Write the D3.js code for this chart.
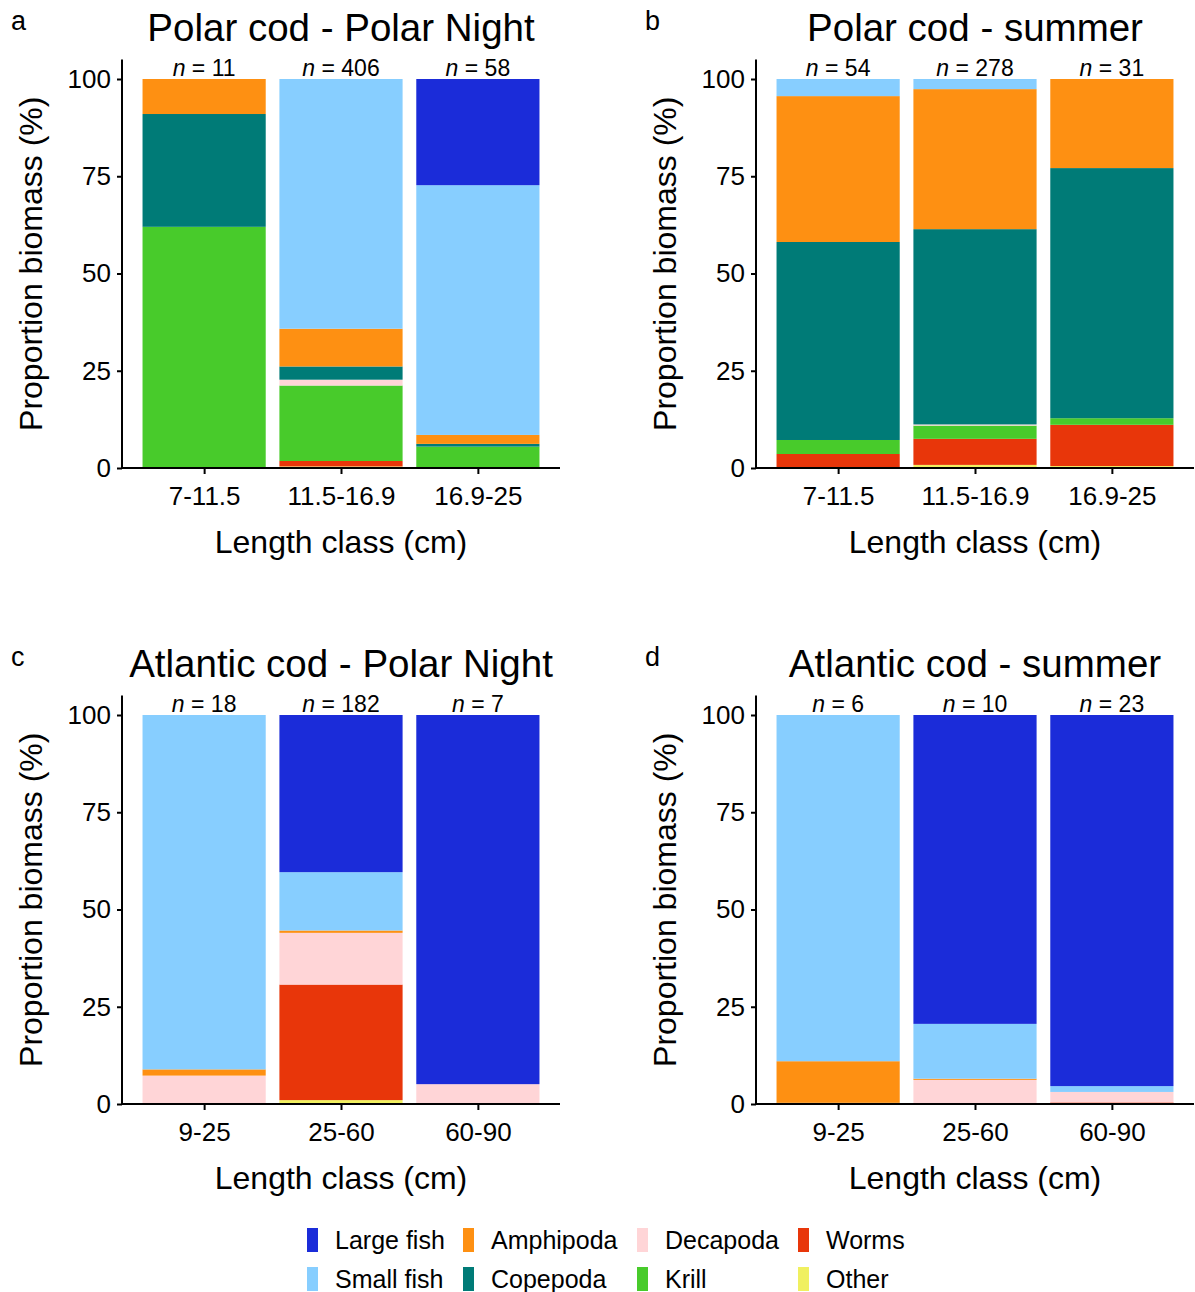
<!DOCTYPE html>
<html><head><meta charset="utf-8">
<script src="https://cdn.jsdelivr.net/npm/d3@7"></script>
<style>
html,body{margin:0;padding:0;background:#fff;}
text{font-family:"Liberation Sans",Arial,sans-serif;fill:#000;}
</style></head>
<body><svg id="chart" width="1195" height="1292"></svg>
<script>
// ---------- data ----------
const stackKeys = ["Other","Worms","Krill","Decapoda","Copepoda","Amphipoda","Small fish","Large fish"];
const legendKeys = ["Large fish","Small fish","Amphipoda","Copepoda","Decapoda","Krill","Worms","Other"];
const preyColors = ["#1B2CD9","#87CEFF","#FE9012","#007B77","#FFD5D7","#48CB2B","#E8360A","#F0F060"];

const polarClasses = ["7-11.5","11.5-16.9","16.9-25"];
const atlanticClasses = ["9-25","25-60","60-90"];

const panelLetters = ["a","b","c","d"];
const panelTitles = ["Polar cod - Polar Night","Polar cod - summer","Atlantic cod - Polar Night","Atlantic cod - summer"];

const nPolarNight = [11, 406, 58];
const nPolarSummer = [54, 278, 31];
const nAtlanticNight = [18, 182, 7];
const nAtlanticSummer = [6, 10, 23];

const polarNight = {
  "Other":      [0, 0.4, 0],
  "Worms":      [0, 1.4, 0],
  "Krill":      [62, 19.4, 5.5],
  "Decapoda":   [0, 1.5, 0],
  "Copepoda":   [29, 3.4, 0.7],
  "Amphipoda":  [9, 9.7, 2.3],
  "Small fish": [0, 64.2, 64.2],
  "Large fish": [0, 0, 27.3]
};
const polarSummer = {
  "Other":      [0, 0.8, 0.5],
  "Worms":      [3.6, 6.7, 10.6],
  "Krill":      [3.6, 3.4, 1.7],
  "Decapoda":   [0, 0.3, 0],
  "Copepoda":   [50.9, 50.2, 64.3],
  "Amphipoda":  [37.5, 36.0, 22.9],
  "Small fish": [4.4, 2.6, 0],
  "Large fish": [0, 0, 0]
};
const atlanticNight = {
  "Other":      [0, 1.0, 0],
  "Worms":      [0, 29.7, 0],
  "Krill":      [0, 0, 0],
  "Decapoda":   [7.3, 13.3, 5.1],
  "Copepoda":   [0, 0, 0],
  "Amphipoda":  [1.6, 0.6, 0],
  "Small fish": [91.1, 15.0, 0],
  "Large fish": [0, 40.4, 94.9]
};
const atlanticSummer = {
  "Other":      [0, 0, 0],
  "Worms":      [0, 0, 0.4],
  "Krill":      [0, 0, 0],
  "Decapoda":   [0, 6.2, 2.7],
  "Copepoda":   [0.3, 0, 0],
  "Amphipoda":  [10.7, 0.3, 0],
  "Small fish": [89.0, 14.1, 1.5],
  "Large fish": [0, 79.4, 95.4]
};

const yTicks = [0, 25, 50, 75, 100];

// ---------- drawing ----------
const svg = d3.select("#chart");
const color = d3.scaleOrdinal().domain(legendKeys).range(preyColors);

const panels = [
  {values: polarNight, classes: polarClasses, n: nPolarNight, ox: 0, oy: 0},
  {values: polarSummer, classes: polarClasses, n: nPolarSummer, ox: 634, oy: 0},
  {values: atlanticNight, classes: atlanticClasses, n: nAtlanticNight, ox: 0, oy: 636},
  {values: atlanticSummer, classes: atlanticClasses, n: nAtlanticSummer, ox: 634, oy: 636}
];

panels.forEach((p, i) => {
  const g = svg.append("g").attr("transform", `translate(${p.ox},${p.oy})`);
  const x0 = 122, x1 = 560, yBottom = 468;
  const x = d3.scalePoint().domain(p.classes).range([x0, x1]).padding(0.6);
  const bw = x.step() * 0.9;
  const y = d3.scaleLinear().domain([0, 105]).range([yBottom, yBottom - 105 * 3.89]);

  const rows = p.classes.map((c, j) => {
    const r = {cls: c};
    stackKeys.forEach(k => r[k] = p.values[k][j]);
    return r;
  });
  const series = d3.stack().keys(stackKeys)(rows);

  g.append("g").selectAll("g").data(series).join("g")
    .attr("fill", d => color(d.key))
    .selectAll("rect").data(d => d.filter(s => s[1] - s[0] > 0)).join("rect")
    .attr("x", d => x(d.data.cls) - bw / 2)
    .attr("width", bw)
    .attr("y", d => y(d[1]))
    .attr("height", d => y(d[0]) - y(d[1]));

  // y axis
  const yAxis = g.append("g").attr("transform", `translate(${x0},0)`)
    .call(d3.axisLeft(y).tickValues(yTicks).tickSize(5).tickPadding(6));
  yAxis.select(".domain").attr("d", `M0,${y(105)}V${yBottom + 1}`).attr("stroke", "#000").attr("stroke-width", 2);
  yAxis.selectAll(".tick line").attr("stroke", "#000").attr("stroke-width", 2);
  yAxis.selectAll(".tick text").attr("font-size", 26).attr("fill", "#000")
    .style("font-family", '"Liberation Sans", Arial, sans-serif');

  // x axis
  const xAxis = g.append("g").attr("transform", `translate(0,${yBottom})`)
    .call(d3.axisBottom(x).tickSize(6).tickPadding(13));
  xAxis.select(".domain").attr("d", `M${x0 - 1},0H${x1}`).attr("stroke", "#000").attr("stroke-width", 2);
  xAxis.selectAll(".tick line").attr("stroke", "#000").attr("stroke-width", 2);
  xAxis.selectAll(".tick text").attr("font-size", 26).attr("fill", "#000").attr("dy", "0.71em")
    .style("font-family", '"Liberation Sans", Arial, sans-serif');

  // axis titles
  g.append("text").attr("x", (x0 + x1) / 2).attr("y", 553).attr("text-anchor", "middle")
    .attr("font-size", 32).text("Length class (cm)");
  g.append("text").attr("transform", `translate(42,${(y(105) + yBottom) / 2}) rotate(-90)`)
    .attr("text-anchor", "middle").attr("font-size", 32).text("Proportion biomass (%)");

  // title and letter
  g.append("text").attr("x", (x0 + x1) / 2).attr("y", 41).attr("text-anchor", "middle")
    .attr("font-size", 38.5).text(panelTitles[i]);
  g.append("text").attr("x", 11).attr("y", 30).attr("font-size", 27).text(panelLetters[i]);

  // n labels
  p.classes.forEach((c, j) => {
    const t = g.append("text").attr("x", x(c)).attr("y", y(100) - 3).attr("text-anchor", "middle")
      .attr("font-size", 23);
    t.append("tspan").attr("font-style", "italic").text("n");
    t.append("tspan").text(" = " + p.n[j]);
  });
});

// legend
const legCols = [307, 463, 637, 798];
const legRows = [1240, 1279];
legendKeys.forEach((k, i) => {
  const col = Math.floor(i / 2), row = i % 2;
  const lg = svg.append("g").attr("transform", `translate(${legCols[col]},${legRows[row]})`);
  lg.append("rect").attr("x", 0).attr("y", -12).attr("width", 11).attr("height", 24).attr("fill", color(k));
  lg.append("text").attr("x", 28).attr("y", 0).attr("dy", "0.35em").attr("font-size", 25).text(k);
});
</script>
</body></html>
